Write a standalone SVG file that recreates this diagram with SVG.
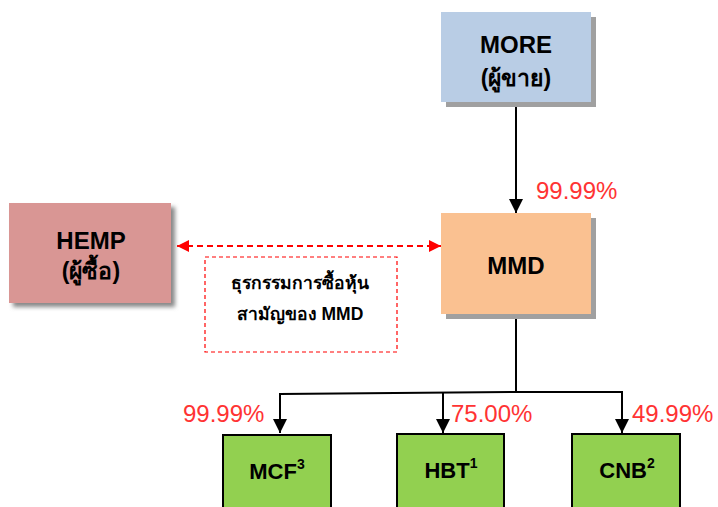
<svg xmlns="http://www.w3.org/2000/svg" width="718" height="507" viewBox="0 0 718 507">
<defs>
<filter id="soft" x="-10%" y="-10%" width="130%" height="130%"><feGaussianBlur stdDeviation="2"/></filter>
<marker id="blk" markerWidth="16" markerHeight="14" refX="14" refY="7" orient="auto" markerUnits="userSpaceOnUse"><path d="M0,0 L14,7 L0,14 Z" fill="#000"/></marker>
<marker id="red" markerWidth="14" markerHeight="12" refX="12" refY="6" orient="auto-start-reverse" markerUnits="userSpaceOnUse"><path d="M0,0 L12,6 L0,12 Z" fill="#ff0000"/></marker>
</defs>
<style>
.t{font-family:"Liberation Sans",Arial,sans-serif;font-weight:bold;fill:#000;text-anchor:middle}
.p{font-family:"Liberation Sans",Arial,sans-serif;fill:#ff3333;font-size:24px}
.sh{fill:#a0a0a0}
.g{fill:#92d050;stroke:#000;stroke-width:2}
.ln{stroke:#000;stroke-width:2;fill:none}
</style>
<rect width="718" height="507" fill="#fff"/>
<g id="connectors">
<line class="ln" x1="516" y1="102" x2="516" y2="213" marker-end="url(#blk)"/>
<polyline class="ln" points="516,314 516,392"/>
<polyline class="ln" points="516,392 280,394 280,433" marker-end="url(#blk)"/>
<polyline class="ln" points="443,393 443,433" marker-end="url(#blk)"/>
<polyline class="ln" points="516,392 622,392 622,433" marker-end="url(#blk)"/>
<line x1="177" y1="246" x2="441" y2="246" stroke="#ff0000" stroke-width="2" stroke-dasharray="6,4" marker-start="url(#red)" marker-end="url(#red)"/>
</g>
<g id="more">
<rect class="sh" x="446" y="17" width="150" height="90"/>
<rect x="441" y="12" width="150" height="90" fill="#b9cde5"/>
<text class="t" x="516" y="53" font-size="24">MORE</text>
<text class="t" x="516" y="86" font-size="23">(ผู้ขาย)</text>
</g>
<g id="hemp">
<rect x="13" y="207" width="162" height="100" fill="#888" filter="url(#soft)"/>
<rect x="9" y="203" width="162" height="100" fill="#d99694"/>
<text class="t" x="91" y="249" font-size="24">HEMP</text>
<text class="t" x="91" y="279" font-size="23">(ผู้ซื้อ)</text>
</g>
<g id="mmd">
<rect class="sh" x="446" y="218" width="150" height="101"/>
<rect x="441" y="213" width="150" height="101" fill="#fac191"/>
<text class="t" x="516" y="274" font-size="24">MMD</text>
</g>
<g id="note">
<rect x="205" y="257" width="192" height="95" fill="none" stroke="#ff0000" stroke-width="1.2" stroke-dasharray="4,3"/>
<text class="t" x="300" y="289" font-size="17.5">ธุรกรรมการซื้อหุ้น</text>
<text class="t" x="300" y="320" font-size="17.5">สามัญของ MMD</text>
</g>
<g id="mcf">
<rect class="g" x="223" y="435" width="108" height="80"/>
<text class="t" x="277" y="479" font-size="22">MCF<tspan font-size="14" dy="-10">3</tspan></text>
</g>
<g id="hbt">
<rect class="g" x="397" y="434" width="107" height="80"/>
<text class="t" x="451" y="478" font-size="22">HBT<tspan font-size="14" dy="-10">1</tspan></text>
</g>
<g id="cnb">
<rect class="g" x="572" y="434" width="108" height="80"/>
<text class="t" x="627" y="478" font-size="22">CNB<tspan font-size="14" dy="-10">2</tspan></text>
</g>
<g id="labels">
<text class="p" x="536" y="199">99.99%</text>
<text class="p" x="183" y="422">99.99%</text>
<text class="p" x="451" y="422">75.00%</text>
<text class="p" x="632" y="422">49.99%</text>
</g>
</svg>
